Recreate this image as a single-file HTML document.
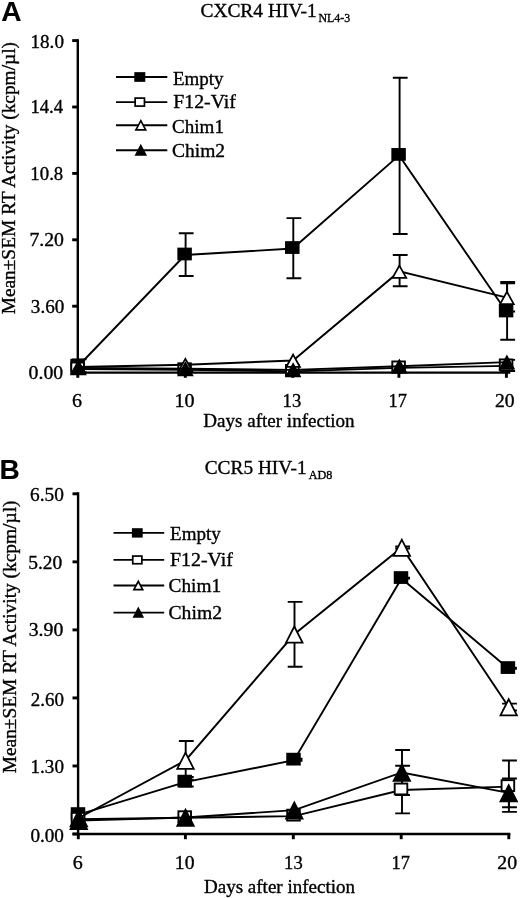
<!DOCTYPE html>
<html><head><meta charset="utf-8"><style>
html,body{margin:0;padding:0;background:#fff;}
body{width:520px;height:898px;overflow:hidden;}
svg{display:block;will-change:transform;}
text{fill:#000;stroke:#000;stroke-width:0.35px;}
</style></head><body>
<svg width="520" height="898" viewBox="0 0 520 898">
<rect width="520" height="898" fill="#fff"/>
<line x1="77.8" y1="39.15" x2="77.8" y2="372.6" stroke="#000" stroke-width="2.4"/>
<line x1="72.2" y1="372.6" x2="510.3" y2="372.6" stroke="#000" stroke-width="2.4"/>
<line x1="72.2" y1="40.6" x2="77.8" y2="40.6" stroke="#000" stroke-width="2.9"/>
<line x1="72.2" y1="107" x2="77.8" y2="107" stroke="#000" stroke-width="2.9"/>
<line x1="72.2" y1="173.4" x2="77.8" y2="173.4" stroke="#000" stroke-width="2.9"/>
<line x1="72.2" y1="239.8" x2="77.8" y2="239.8" stroke="#000" stroke-width="2.9"/>
<line x1="72.2" y1="306.2" x2="77.8" y2="306.2" stroke="#000" stroke-width="2.9"/>
<line x1="72.2" y1="372.6" x2="77.8" y2="372.6" stroke="#000" stroke-width="2.9"/>
<line x1="77.8" y1="372.6" x2="77.8" y2="377.8" stroke="#000" stroke-width="2.9"/>
<line x1="185.3" y1="372.6" x2="185.3" y2="377.8" stroke="#000" stroke-width="2.9"/>
<line x1="292.8" y1="372.6" x2="292.8" y2="377.8" stroke="#000" stroke-width="2.9"/>
<line x1="398.9" y1="372.6" x2="398.9" y2="377.8" stroke="#000" stroke-width="2.9"/>
<line x1="506.4" y1="372.6" x2="506.4" y2="377.8" stroke="#000" stroke-width="2.9"/>
<path d="M78.6 359.37V372.28M71.8 359.37H86.6M71.8 372.28H86.6" stroke="#000" stroke-width="1.9" fill="none"/>
<path d="M185.6 233.21V276M178.8 233.21H193.6M178.8 276H193.6" stroke="#000" stroke-width="1.9" fill="none"/>
<path d="M293.3 218.08V278.21M286.5 218.08H301.3M286.5 278.21H301.3" stroke="#000" stroke-width="1.9" fill="none"/>
<path d="M399.6 77.72V233.94M392.8 77.72H407.6M392.8 233.94H407.6" stroke="#000" stroke-width="1.9" fill="none"/>
<path d="M507.1 283.38V339.82M500.3 283.38H515.1M500.3 339.82H515.1" stroke="#000" stroke-width="1.9" fill="none"/>
<path d="M507.1 359.92V370.99M500.3 359.92H515.1M500.3 370.99H515.1" stroke="#000" stroke-width="1.9" fill="none"/>
<path d="M399.6 254.93V286.29M392.8 254.93H407.6M392.8 286.29H407.6" stroke="#000" stroke-width="1.9" fill="none"/>
<path d="M507.1 282.04V311.56M500.3 282.04H515.1M500.3 311.56H515.1" stroke="#000" stroke-width="1.9" fill="none"/>
<polyline points="78.1,366.22 185.1,255 292.8,248.55 399.1,155.4 506.6,312" fill="none" stroke="#000" stroke-width="1.9" stroke-linejoin="miter"/>
<rect x="71.3" y="359.8" width="12.6" height="10.85" fill="#000" stroke="#000" stroke-width="1.9"/>
<rect x="178.3" y="248.58" width="12.6" height="10.85" fill="#000" stroke="#000" stroke-width="1.9"/>
<rect x="286" y="242.12" width="12.6" height="10.85" fill="#000" stroke="#000" stroke-width="1.9"/>
<rect x="392.3" y="148.98" width="12.6" height="10.85" fill="#000" stroke="#000" stroke-width="1.9"/>
<rect x="499.8" y="305.57" width="12.6" height="10.85" fill="#000" stroke="#000" stroke-width="1.9"/>
<polyline points="78.1,368.99 185.1,369.73 292.8,371.39 399.1,367.88 506.6,365.85" fill="none" stroke="#000" stroke-width="1.9" stroke-linejoin="miter"/>
<rect x="71.3" y="362.56" width="12.6" height="10.85" fill="#fff" stroke="#000" stroke-width="1.9"/>
<rect x="178.3" y="363.3" width="12.6" height="10.85" fill="#fff" stroke="#000" stroke-width="1.9"/>
<rect x="286" y="364.96" width="12.6" height="10.85" fill="#fff" stroke="#000" stroke-width="1.9"/>
<rect x="392.3" y="361.46" width="12.6" height="10.85" fill="#fff" stroke="#000" stroke-width="1.9"/>
<rect x="499.8" y="359.43" width="12.6" height="10.85" fill="#fff" stroke="#000" stroke-width="1.9"/>
<polyline points="78.4,366.95 185.4,364.74 293.1,360.5 399.4,271.41 506.9,297.6" fill="none" stroke="#000" stroke-width="1.9" stroke-linejoin="miter"/>
<path d="M78.4 361.1L85.25 373.4L71.55 373.4Z" fill="#fff" stroke="#000" stroke-width="1.75" stroke-linejoin="miter"/>
<path d="M185.4 358.89L192.25 371.19L178.55 371.19Z" fill="#fff" stroke="#000" stroke-width="1.75" stroke-linejoin="miter"/>
<path d="M293.1 354.65L299.95 366.95L286.25 366.95Z" fill="#fff" stroke="#000" stroke-width="1.75" stroke-linejoin="miter"/>
<path d="M399.4 265.56L406.25 277.86L392.55 277.86Z" fill="#fff" stroke="#000" stroke-width="1.75" stroke-linejoin="miter"/>
<path d="M506.9 291.75L513.75 304.05L500.05 304.05Z" fill="#fff" stroke="#000" stroke-width="1.75" stroke-linejoin="miter"/>
<polyline points="78.4,367.87 185.4,368.8 293.1,369.9 399.4,366.21 506.9,362.16" fill="none" stroke="#000" stroke-width="1.9" stroke-linejoin="miter"/>
<path d="M78.4 362.02L85.25 374.32L71.55 374.32Z" fill="#000" stroke="#000" stroke-width="1.75" stroke-linejoin="miter"/>
<path d="M185.4 362.95L192.25 375.25L178.55 375.25Z" fill="#000" stroke="#000" stroke-width="1.75" stroke-linejoin="miter"/>
<path d="M293.1 364.05L299.95 376.35L286.25 376.35Z" fill="#000" stroke="#000" stroke-width="1.75" stroke-linejoin="miter"/>
<path d="M399.4 360.36L406.25 372.66L392.55 372.66Z" fill="#000" stroke="#000" stroke-width="1.75" stroke-linejoin="miter"/>
<path d="M506.9 356.31L513.75 368.61L500.05 368.61Z" fill="#000" stroke="#000" stroke-width="1.75" stroke-linejoin="miter"/>
<line x1="116" y1="77" x2="167.3" y2="77" stroke="#000" stroke-width="1.9"/>
<rect x="135.15" y="73" width="9.3" height="8" fill="#000" stroke="#000" stroke-width="1.7"/>
<line x1="116" y1="102.1" x2="167.3" y2="102.1" stroke="#000" stroke-width="1.9"/>
<rect x="135.15" y="98.1" width="9.3" height="8" fill="#fff" stroke="#000" stroke-width="1.7"/>
<line x1="116" y1="125.3" x2="167.3" y2="125.3" stroke="#000" stroke-width="1.9"/>
<path d="M140.8 120.7L145.65 129.9L135.95 129.9Z" fill="#fff" stroke="#000" stroke-width="1.7" stroke-linejoin="miter"/>
<line x1="116" y1="150.2" x2="167.3" y2="150.2" stroke="#000" stroke-width="1.9"/>
<path d="M140.8 145.6L145.65 154.8L135.95 154.8Z" fill="#000" stroke="#000" stroke-width="1.7" stroke-linejoin="miter"/>
<line x1="78.1" y1="492.35" x2="78.1" y2="834" stroke="#000" stroke-width="2.4"/>
<line x1="72.5" y1="834" x2="510.4" y2="834" stroke="#000" stroke-width="2.4"/>
<line x1="72.5" y1="493.8" x2="78.1" y2="493.8" stroke="#000" stroke-width="2.9"/>
<line x1="72.5" y1="561.84" x2="78.1" y2="561.84" stroke="#000" stroke-width="2.9"/>
<line x1="72.5" y1="629.88" x2="78.1" y2="629.88" stroke="#000" stroke-width="2.9"/>
<line x1="72.5" y1="697.92" x2="78.1" y2="697.92" stroke="#000" stroke-width="2.9"/>
<line x1="72.5" y1="765.96" x2="78.1" y2="765.96" stroke="#000" stroke-width="2.9"/>
<line x1="72.5" y1="834" x2="78.1" y2="834" stroke="#000" stroke-width="2.9"/>
<line x1="78.3" y1="834" x2="78.3" y2="839.2" stroke="#000" stroke-width="2.9"/>
<line x1="185.4" y1="834" x2="185.4" y2="839.2" stroke="#000" stroke-width="2.9"/>
<line x1="293.3" y1="834" x2="293.3" y2="839.2" stroke="#000" stroke-width="2.9"/>
<line x1="401.2" y1="834" x2="401.2" y2="839.2" stroke="#000" stroke-width="2.9"/>
<line x1="508.8" y1="834" x2="508.8" y2="839.2" stroke="#000" stroke-width="2.9"/>
<path d="M185.7 777.03V786.45M178.9 777.03H193.7M178.9 786.45H193.7" stroke="#000" stroke-width="1.9" fill="none"/>
<path d="M294.5 758.71V760.8M287.7 758.71H302.5M287.7 760.8H302.5" stroke="#000" stroke-width="1.9" fill="none"/>
<path d="M402 577.62V578.66M395.2 577.62H410M395.2 578.66H410" stroke="#000" stroke-width="1.9" fill="none"/>
<path d="M508.9 667.64V668.69M502.1 667.64H516.9M502.1 668.69H516.9" stroke="#000" stroke-width="1.9" fill="none"/>
<path d="M402 765.77V813.4M395.2 765.77H410M395.2 813.4H410" stroke="#000" stroke-width="1.9" fill="none"/>
<path d="M508.9 760.54V811.83M502.1 760.54H516.9M502.1 811.83H516.9" stroke="#000" stroke-width="1.9" fill="none"/>
<path d="M185.7 741.06V779.79M178.9 741.06H193.7M178.9 779.79H193.7" stroke="#000" stroke-width="1.9" fill="none"/>
<path d="M294.5 601.84V666.74M287.7 601.84H302.5M287.7 666.74H302.5" stroke="#000" stroke-width="1.9" fill="none"/>
<path d="M402 546.36V548.46M395.2 546.36H410M395.2 548.46H410" stroke="#000" stroke-width="1.9" fill="none"/>
<path d="M508.9 703.64V710.44M502.1 703.64H516.9M502.1 710.44H516.9" stroke="#000" stroke-width="1.9" fill="none"/>
<path d="M402 749.96V794.97M395.2 749.96H410M395.2 794.97H410" stroke="#000" stroke-width="1.9" fill="none"/>
<path d="M508.9 778.48V807.27M502.1 778.48H516.9M502.1 807.27H516.9" stroke="#000" stroke-width="1.9" fill="none"/>
<polyline points="78.5,814.59 185.2,782.14 294,760.16 401.5,578.54 508.4,668.56" fill="none" stroke="#000" stroke-width="1.9" stroke-linejoin="miter"/>
<rect x="71.7" y="808.16" width="12.6" height="10.85" fill="#000" stroke="#000" stroke-width="1.9"/>
<rect x="178.4" y="775.71" width="12.6" height="10.85" fill="#000" stroke="#000" stroke-width="1.9"/>
<rect x="287.2" y="753.73" width="12.6" height="10.85" fill="#000" stroke="#000" stroke-width="1.9"/>
<rect x="394.7" y="572.12" width="12.6" height="10.85" fill="#000" stroke="#000" stroke-width="1.9"/>
<rect x="501.6" y="662.14" width="12.6" height="10.85" fill="#000" stroke="#000" stroke-width="1.9"/>
<polyline points="78.5,819.3 185.2,817.73 294,816.16 401.5,789.99 508.4,786.59" fill="none" stroke="#000" stroke-width="1.9" stroke-linejoin="miter"/>
<rect x="71.7" y="812.87" width="12.6" height="10.85" fill="#fff" stroke="#000" stroke-width="1.9"/>
<rect x="178.4" y="811.3" width="12.6" height="10.85" fill="#fff" stroke="#000" stroke-width="1.9"/>
<rect x="287.2" y="809.73" width="12.6" height="10.85" fill="#fff" stroke="#000" stroke-width="1.9"/>
<rect x="394.7" y="783.56" width="12.6" height="10.85" fill="#fff" stroke="#000" stroke-width="1.9"/>
<rect x="501.6" y="780.16" width="12.6" height="10.85" fill="#fff" stroke="#000" stroke-width="1.9"/>
<polyline points="78.8,818 185.5,760.43 294.3,634.29 401.8,547.41 508.7,707.04" fill="none" stroke="#000" stroke-width="1.9" stroke-linejoin="miter"/>
<path d="M78.8 810.2L87.05 826.4L70.55 826.4Z" fill="#fff" stroke="#000" stroke-width="1.75" stroke-linejoin="miter"/>
<path d="M185.5 752.63L193.75 768.83L177.25 768.83Z" fill="#fff" stroke="#000" stroke-width="1.75" stroke-linejoin="miter"/>
<path d="M294.3 626.49L302.55 642.69L286.05 642.69Z" fill="#fff" stroke="#000" stroke-width="1.75" stroke-linejoin="miter"/>
<path d="M401.8 539.61L410.05 555.81L393.55 555.81Z" fill="#fff" stroke="#000" stroke-width="1.75" stroke-linejoin="miter"/>
<path d="M508.7 699.24L516.95 715.44L500.45 715.44Z" fill="#fff" stroke="#000" stroke-width="1.75" stroke-linejoin="miter"/>
<polyline points="78.8,820.62 185.5,817.48 294.3,810.15 401.8,772.46 508.7,792.88" fill="none" stroke="#000" stroke-width="1.9" stroke-linejoin="miter"/>
<path d="M78.8 812.82L87.05 829.02L70.55 829.02Z" fill="#000" stroke="#000" stroke-width="1.75" stroke-linejoin="miter"/>
<path d="M185.5 809.68L193.75 825.88L177.25 825.88Z" fill="#000" stroke="#000" stroke-width="1.75" stroke-linejoin="miter"/>
<path d="M294.3 802.35L302.55 818.55L286.05 818.55Z" fill="#000" stroke="#000" stroke-width="1.75" stroke-linejoin="miter"/>
<path d="M401.8 764.66L410.05 780.86L393.55 780.86Z" fill="#000" stroke="#000" stroke-width="1.75" stroke-linejoin="miter"/>
<path d="M508.7 785.08L516.95 801.28L500.45 801.28Z" fill="#000" stroke="#000" stroke-width="1.75" stroke-linejoin="miter"/>
<line x1="113.5" y1="532.9" x2="164.2" y2="532.9" stroke="#000" stroke-width="1.9"/>
<rect x="132.75" y="529.05" width="9.1" height="7.7" fill="#000" stroke="#000" stroke-width="1.7"/>
<line x1="113.5" y1="559.9" x2="164.2" y2="559.9" stroke="#000" stroke-width="1.9"/>
<rect x="132.75" y="556.05" width="9.1" height="7.7" fill="#fff" stroke="#000" stroke-width="1.7"/>
<line x1="113.5" y1="585.5" x2="164.2" y2="585.5" stroke="#000" stroke-width="1.9"/>
<path d="M138.3 581.3L142.7 589.7L133.9 589.7Z" fill="#fff" stroke="#000" stroke-width="1.7" stroke-linejoin="miter"/>
<line x1="113.5" y1="612.6" x2="164.2" y2="612.6" stroke="#000" stroke-width="1.9"/>
<path d="M138.3 608.4L142.7 616.8L133.9 616.8Z" fill="#000" stroke="#000" stroke-width="1.7" stroke-linejoin="miter"/>
<text x="30.54" y="47.7" textLength="33.41" lengthAdjust="spacingAndGlyphs" style="font-family:&quot;Liberation Serif&quot;,serif;font-size:19px">18.0</text>
<text x="30.38" y="113.2" textLength="32.66" lengthAdjust="spacingAndGlyphs" style="font-family:&quot;Liberation Serif&quot;,serif;font-size:19px">14.4</text>
<text x="30.37" y="179.7" textLength="32.87" lengthAdjust="spacingAndGlyphs" style="font-family:&quot;Liberation Serif&quot;,serif;font-size:19px">10.8</text>
<text x="29.4" y="246.2" textLength="34.58" lengthAdjust="spacingAndGlyphs" style="font-family:&quot;Liberation Serif&quot;,serif;font-size:19px">7.20</text>
<text x="30.89" y="313.2" textLength="33.46" lengthAdjust="spacingAndGlyphs" style="font-family:&quot;Liberation Serif&quot;,serif;font-size:19px">3.60</text>
<text x="28.62" y="379.3" textLength="34.56" lengthAdjust="spacingAndGlyphs" style="font-family:&quot;Liberation Serif&quot;,serif;font-size:19px">0.00</text>
<text x="72.11" y="406.5" textLength="10.02" lengthAdjust="spacingAndGlyphs" style="font-family:&quot;Liberation Serif&quot;,serif;font-size:19px">6</text>
<text x="174.45" y="406.5" textLength="20.04" lengthAdjust="spacingAndGlyphs" style="font-family:&quot;Liberation Serif&quot;,serif;font-size:19px">10</text>
<text x="282.58" y="406.5" textLength="18.65" lengthAdjust="spacingAndGlyphs" style="font-family:&quot;Liberation Serif&quot;,serif;font-size:19px">13</text>
<text x="388.61" y="406.5" textLength="18.38" lengthAdjust="spacingAndGlyphs" style="font-family:&quot;Liberation Serif&quot;,serif;font-size:19px">17</text>
<text x="495.02" y="406.5" textLength="19.65" lengthAdjust="spacingAndGlyphs" style="font-family:&quot;Liberation Serif&quot;,serif;font-size:19px">20</text>
<text x="203.3" y="427.4" textLength="151.29" lengthAdjust="spacingAndGlyphs" style="font-family:&quot;Liberation Serif&quot;,serif;font-size:19px">Days after infection</text>
<text transform="translate(15,314.31) rotate(-90)" x="0" y="0" textLength="272.33" lengthAdjust="spacingAndGlyphs" style="font-family:&quot;Liberation Serif&quot;,serif;font-size:19px">Mean&#177;SEM RT Activity (kcpm/&#181;l)</text>
<text x="200.43" y="16.8" textLength="116.38" lengthAdjust="spacingAndGlyphs" style="font-family:&quot;Liberation Serif&quot;,serif;font-size:19px">CXCR4 HIV-1</text>
<text x="318.55" y="21.6" textLength="31.64" lengthAdjust="spacingAndGlyphs" style="font-family:&quot;Liberation Serif&quot;,serif;font-size:12px">NL4-3</text>
<text x="1.26" y="20.8" textLength="20.32" lengthAdjust="spacingAndGlyphs" style="font-family:&quot;Liberation Sans&quot;,sans-serif;font-size:28.5px;font-weight:bold;stroke-width:0.1px">A</text>
<text x="173" y="84.7" textLength="50.57" lengthAdjust="spacingAndGlyphs" style="font-family:&quot;Liberation Serif&quot;,serif;font-size:19px">Empty</text>
<text x="173.28" y="108.2" textLength="62.72" lengthAdjust="spacingAndGlyphs" style="font-family:&quot;Liberation Serif&quot;,serif;font-size:19px">F12-Vif</text>
<text x="172.05" y="132.5" textLength="51.89" lengthAdjust="spacingAndGlyphs" style="font-family:&quot;Liberation Serif&quot;,serif;font-size:19px">Chim1</text>
<text x="172.03" y="157" textLength="53.08" lengthAdjust="spacingAndGlyphs" style="font-family:&quot;Liberation Serif&quot;,serif;font-size:19px">Chim2</text>
<text x="30.14" y="501" textLength="33.83" lengthAdjust="spacingAndGlyphs" style="font-family:&quot;Liberation Serif&quot;,serif;font-size:19px">6.50</text>
<text x="28.17" y="568.6" textLength="34.09" lengthAdjust="spacingAndGlyphs" style="font-family:&quot;Liberation Serif&quot;,serif;font-size:19px">5.20</text>
<text x="28.76" y="636.4" textLength="34.52" lengthAdjust="spacingAndGlyphs" style="font-family:&quot;Liberation Serif&quot;,serif;font-size:19px">3.90</text>
<text x="30.75" y="705.8" textLength="33.2" lengthAdjust="spacingAndGlyphs" style="font-family:&quot;Liberation Serif&quot;,serif;font-size:19px">2.60</text>
<text x="30.54" y="772.7" textLength="33.41" lengthAdjust="spacingAndGlyphs" style="font-family:&quot;Liberation Serif&quot;,serif;font-size:19px">1.30</text>
<text x="30.44" y="842" textLength="33.51" lengthAdjust="spacingAndGlyphs" style="font-family:&quot;Liberation Serif&quot;,serif;font-size:19px">0.00</text>
<text x="72.71" y="868.5" textLength="10.02" lengthAdjust="spacingAndGlyphs" style="font-family:&quot;Liberation Serif&quot;,serif;font-size:19px">6</text>
<text x="174.79" y="868.5" textLength="19.69" lengthAdjust="spacingAndGlyphs" style="font-family:&quot;Liberation Serif&quot;,serif;font-size:19px">10</text>
<text x="284.08" y="868.5" textLength="18.65" lengthAdjust="spacingAndGlyphs" style="font-family:&quot;Liberation Serif&quot;,serif;font-size:19px">13</text>
<text x="391.51" y="868.5" textLength="18.38" lengthAdjust="spacingAndGlyphs" style="font-family:&quot;Liberation Serif&quot;,serif;font-size:19px">17</text>
<text x="497.32" y="868.5" textLength="19.76" lengthAdjust="spacingAndGlyphs" style="font-family:&quot;Liberation Serif&quot;,serif;font-size:19px">20</text>
<text x="204" y="892.7" textLength="150.99" lengthAdjust="spacingAndGlyphs" style="font-family:&quot;Liberation Serif&quot;,serif;font-size:19px">Days after infection</text>
<text transform="translate(15.8,773.31) rotate(-90)" x="0" y="0" textLength="272.83" lengthAdjust="spacingAndGlyphs" style="font-family:&quot;Liberation Serif&quot;,serif;font-size:19px">Mean&#177;SEM RT Activity (kcpm/&#181;l)</text>
<text x="204.74" y="473.6" textLength="101.81" lengthAdjust="spacingAndGlyphs" style="font-family:&quot;Liberation Serif&quot;,serif;font-size:19px">CCR5 HIV-1</text>
<text x="308.75" y="478.5" textLength="23.65" lengthAdjust="spacingAndGlyphs" style="font-family:&quot;Liberation Serif&quot;,serif;font-size:12px">AD8</text>
<text x="-0.47" y="479.2" textLength="20.3" lengthAdjust="spacingAndGlyphs" style="font-family:&quot;Liberation Sans&quot;,sans-serif;font-size:28.5px;font-weight:bold;stroke-width:0.1px">B</text>
<text x="170" y="539.9" textLength="50.77" lengthAdjust="spacingAndGlyphs" style="font-family:&quot;Liberation Serif&quot;,serif;font-size:19px">Empty</text>
<text x="169.98" y="566.2" textLength="62.92" lengthAdjust="spacingAndGlyphs" style="font-family:&quot;Liberation Serif&quot;,serif;font-size:19px">F12-Vif</text>
<text x="168.54" y="592.4" textLength="52.51" lengthAdjust="spacingAndGlyphs" style="font-family:&quot;Liberation Serif&quot;,serif;font-size:19px">Chim1</text>
<text x="168.52" y="619.1" textLength="53.49" lengthAdjust="spacingAndGlyphs" style="font-family:&quot;Liberation Serif&quot;,serif;font-size:19px">Chim2</text>
</svg>
</body></html>
